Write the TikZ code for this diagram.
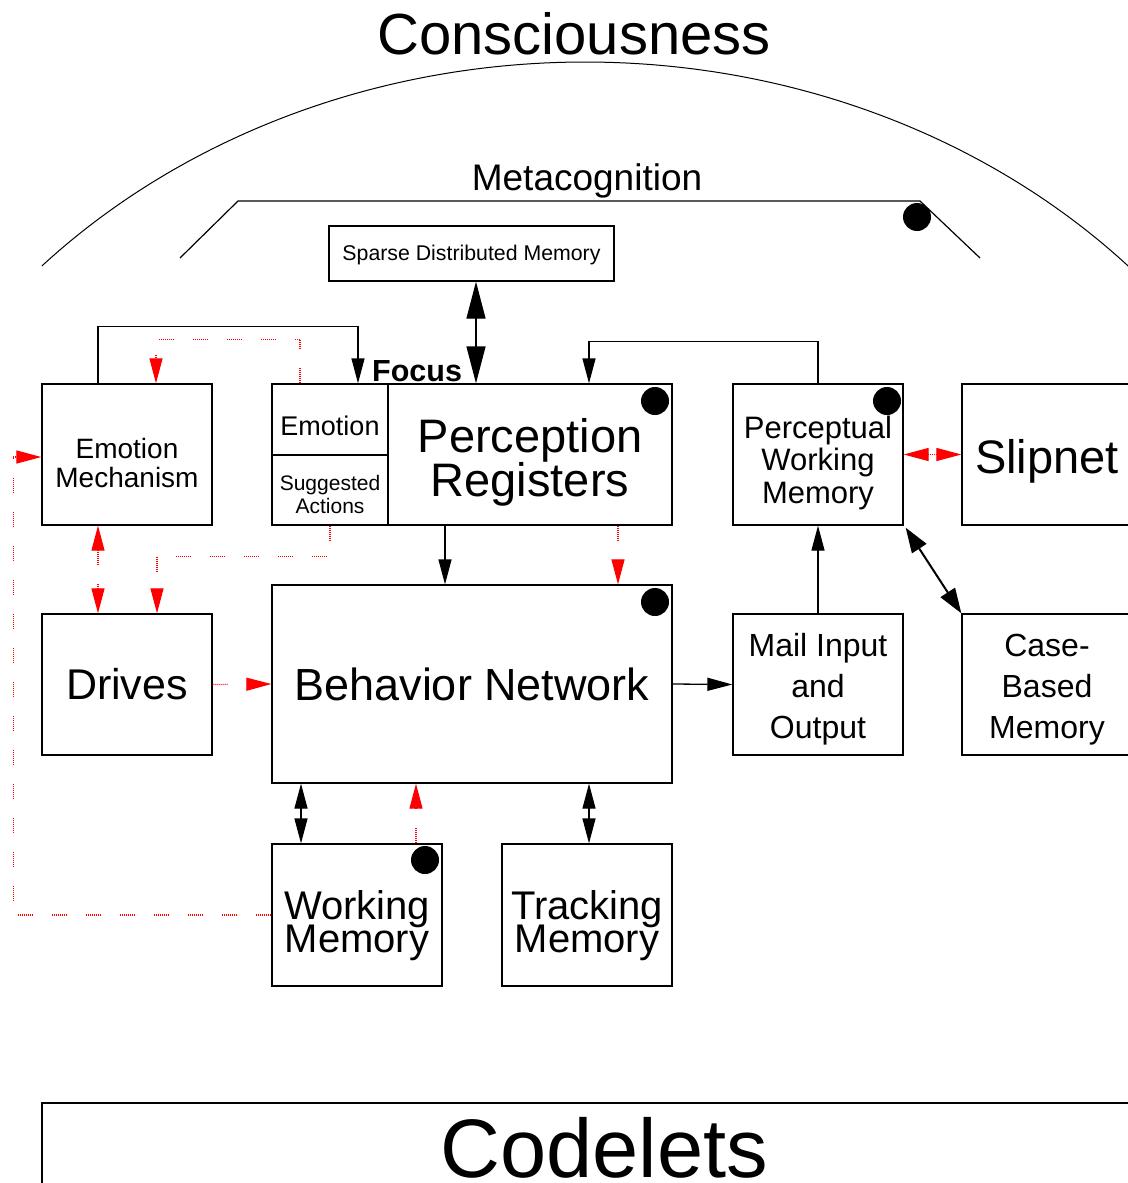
\documentclass[tikz,border=0pt]{standalone}
\usepackage{fontspec}
\setmainfont{Liberation Sans}
\usetikzlibrary{arrows.meta,calc}
\newcommand\mytightls{\lineskiplimit=-100pt\relax}
\tikzset{
  box/.style={draw, line width=1.3pt, rectangle, inner sep=0pt, minimum width=170pt, minimum height=141pt},
  tx/.style={align=center, inner sep=0pt},
  ln/.style={line width=1.3pt},
  blk/.style={line width=1.3pt, -{Triangle[length=25pt,width=13pt]}},
  blkdbl/.style={line width=1.3pt, {Triangle[length=25pt,width=13pt]}-{Triangle[length=25pt,width=13pt]}},
  bigdbl/.style={line width=1.3pt, {Triangle[length=37pt,width=19pt]}-{Triangle[length=37pt,width=19pt]}},
  reddot/.style={red, line width=1.2pt, dash pattern=on 1pt off 1pt on 1pt off 1pt on 1pt off 1pt on 1pt off 1pt on 1pt off 1pt on 1pt off 1pt on 1pt off 1pt on 1pt off 19pt},
  rtip/.style={-{Triangle[length=25pt,width=13pt,red]}},
  rdbl/.style={{Triangle[length=25pt,width=13pt,red]}-{Triangle[length=25pt,width=13pt,red]}},
  dot/.style={fill=black}
}
\begin{document}
\begin{tikzpicture}[x=1pt,y=-1pt]
\useasboundingbox (0,0) rectangle (1127,1183);
\fill[white] (0,0) rectangle (1127,1183);

% Consciousness arc
\node[anchor=base, inner sep=0pt, font=\fontsize{58}{60}\selectfont] (cons) at (574,54) {Consciousness};
\draw[line width=1pt] plot[domain=43:136.4, samples=150, smooth] ({585+750*cos(\x)},{719-657*sin(\x)});

% Metacognition
\node[anchor=base, inner sep=0pt, font=\fontsize{37}{39}\selectfont] (meta) at (587,190) {Metacognition};
\draw[line width=1.2pt] (180,258) -- (238,201) -- (920,201) -- (980,258);
\fill[dot] (917,217) circle (14pt);

% Boxes
\node[box, minimum width=285pt, minimum height=55pt] (sdm) at (471.5,253.5) {};
\node[box] (em) at (127,454.5) {};
\node[box, minimum width=116pt, minimum height=71pt] (emo) at (330,419.5) {};
\node[box, minimum width=116pt, minimum height=70pt] (sug) at (330,490) {};
\node[box, minimum width=284pt] (pr) at (530,454.5) {};
\node[box] (pwm) at (818,454.5) {};
\node[box] (slip) at (1047,454.5) {};
\node[box] (drv) at (127,684.5) {};
\node[box, minimum width=400pt, minimum height=198pt] (bn) at (472,684) {};
\node[box] (mio) at (818,684.5) {};
\node[box] (cbm) at (1047,684.5) {};
\node[box, minimum height=142pt] (wm) at (357,915) {};
\node[box, minimum height=142pt] (tm) at (587,915) {};

% Box texts
\node[tx, font=\fontsize{21.3}{23}\selectfont] (sdm-t) at ([yshift=-1pt]sdm.center) {Sparse Distributed Memory};
\node[tx, font=\fontsize{28}{29}\selectfont] (em-t) at ([yshift=-8pt]em.center) {Emotion\\Mechanism};
\node[tx, font=\fontsize{27}{29}\selectfont] (emo-t) at ([yshift=-6pt]emo.center) {Emotion};
\node[tx, font=\fontsize{21}{23}\selectfont] (sug-t) at ([yshift=-4pt]sug.center) {Suggested\\Actions};
\node[tx, font=\fontsize{47}{44}\selectfont] (pr-t) at ([yshift=-8pt]pr.center) {Perception\\Registers};
\node[tx, font=\fontsize{31}{32.5}\selectfont] (pwm-t) at ([yshift=-8pt]pwm.center) {Perceptual\\Working\\Memory};
\node[tx, font=\fontsize{47}{49}\selectfont] (slip-t) at ([yshift=-7pt]slip.center) {Slipnet};
\node[tx, font=\fontsize{43}{45}\selectfont] (drv-t) at (drv.center) {Drives};
\node[tx, font=\fontsize{45}{47}\selectfont] (bn-t) at (bn.center) {Behavior Network};
\node[tx, font=\fontsize{32}{41}\selectfont] (mio-t) at ([yshift=-5pt]mio.center) {Mail Input\\and\\Output};
\node[tx, font=\fontsize{32}{41}\selectfont] (cbm-t) at ([yshift=-5pt]cbm.center) {Case-\\Based\\Memory};
\node[tx, font={\fontsize{40}{33}\selectfont\mytightls}] (wm-t) at ([yshift=-11pt]wm.center) {Working\\Memory};
\node[tx, font={\fontsize{40}{33}\selectfont\mytightls}] (tm-t) at ([yshift=-11pt]tm.center) {Tracking\\Memory};

% Codelets
\draw[ln] (42,1290) -- (42,1103) -- (1180,1103);
\node[anchor=base, inner sep=0pt, font=\fontsize{83}{85}\selectfont] (cod) at (604,1177) {Codelets};

% Focus
\node[anchor=base west, font=\fontsize{30.5}{31}\selectfont\bfseries, inner sep=0pt] (focus) at (372,381) {Focus};

% dots
\fill[dot] (655,401) circle (14pt);
\fill[dot] (655,602) circle (14pt);
\fill[dot] (887,401) circle (14pt);
\fill[dot] (425,860) circle (14pt);

% black connectors
\draw[bigdbl] ([xshift=4.5pt]sdm.south) -- ([xshift=4.5pt]sdm.south |- pr.north);
\draw[blk] ([xshift=-29pt]em.north) -- ++(0,-57) -| ([xshift=28pt]emo.north);
\draw[blk] (pwm.north) -- ++(0,-42) -| ([xshift=59pt]pr.north);
\draw[blk] ([xshift=-85pt]pr.south) -- ([xshift=-85pt]pr.south |- bn.north);
\draw[blk] (mio.north) -- (pwm.south);
\draw[blk] (bn.east) -- (mio.west);
\draw[line width=2pt, {Triangle[length=25pt,width=17pt]}-{Triangle[length=25pt,width=17pt]}] ([shift={(2pt,-2pt)}]pwm.south east) -- (cbm.north west);
\draw[blkdbl] ([xshift=-56pt]wm.north) -- ([xshift=-56pt]wm.north |- bn.south);
\draw[blkdbl] ([xshift=2pt]tm.north) -- ([xshift=2pt]tm.north |- bn.south);

% red dotted connectors
\draw[reddot, rtip] ([xshift=-30pt]emo.north) -- ++(0,-44) -| ([xshift=29pt]em.north);
\draw[reddot, rtip] (sug.south) -- ++(0,31) -| ([xshift=30pt]drv.north);
\draw[reddot, rdbl] ([xshift=-29pt]em.south) -- ([xshift=-29pt]drv.north);
\draw[reddot, rtip] (wm.west) -- ++(-258,0) |- ([yshift=-2.5pt]em.west);
\draw[reddot, rtip] (drv.east) -- (bn.west);
\draw[reddot, rtip] ([xshift=88pt]pr.south) -- ([xshift=88pt]pr.south |- bn.north);
\draw[reddot, rdbl] (pwm.east) -- (slip.west);
\draw[reddot, rtip] ([xshift=59pt]wm.north) -- ([xshift=59pt]wm.north |- bn.south);
\end{tikzpicture}
\end{document}
